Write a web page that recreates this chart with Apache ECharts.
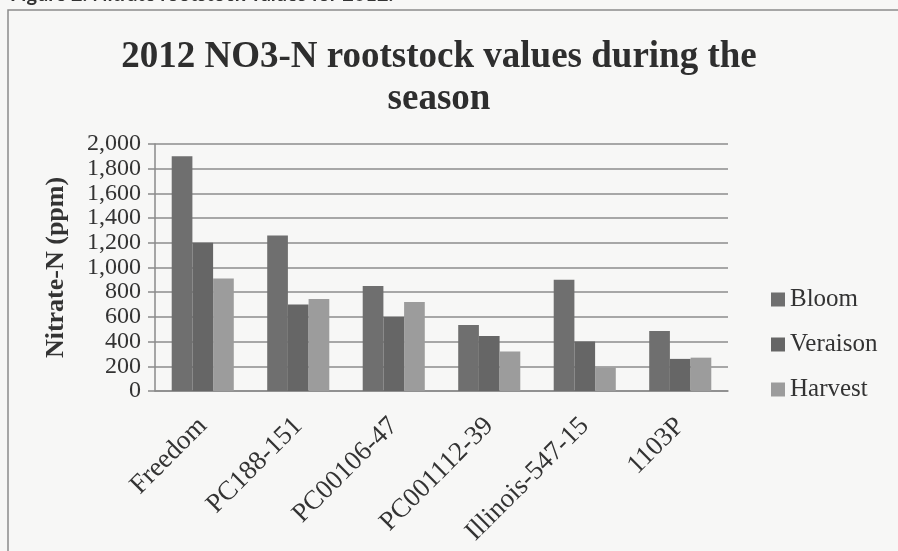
<!DOCTYPE html>
<html>
<head>
<meta charset="utf-8">
<script src="https://cdn.jsdelivr.net/npm/echarts@6/dist/echarts.min.js"></script>
<style>
html,body{margin:0;padding:0;background:#f7f7f6;}
#chart{width:898px;height:551px;}
</style>
</head>
<body>
<div id="chart"></div>
<script>
const categories = ['Freedom', 'PC188-151', 'PC00106-47', 'PC001112-39', 'Illinois-547-15', '1103P'];
const bloom    = [1900, 1260, 850, 535, 900, 485];
const veraison = [1200, 700, 600, 445, 400, 260];
const harvest  = [910, 745, 720, 320, 190, 270];
const seriesNames = ['Bloom', 'Veraison', 'Harvest'];
const titleText = '2012 NO3-N rootstock values during the\nseason';
const yAxisName = 'Nitrate-N (ppm)';
const headerText = 'Figure 2. Nitrate rootstock values for 2012.';

const colors = ['#6f6f6f', '#666666', '#9c9c9c'];
const serif = '"Liberation Serif", "DejaVu Serif", serif';

const chart = echarts.init(document.getElementById('chart'), null, {renderer: 'canvas'});
chart.setOption({
  backgroundColor: '#f7f7f6',
  animation: false,
  color: colors,
  title: {
    text: titleText,
    left: 434,
    textAlign: 'center',
    top: 31,
    textStyle: {fontFamily: serif, fontWeight: 'bold', fontSize: 37, lineHeight: 42, color: '#2e2e2e'}
  },
  graphic: [
    {type: 'rect', shape: {x: 8, y: 10, width: 940, height: 600}, style: {fill: null, stroke: '#8c8c8c', lineWidth: 1.5}, silent: true},
    {type: 'text', x: 10, y: 5, style: {text: headerText, font: 'bold 20px Lato, "Open Sans", sans-serif', fill: '#333', textVerticalAlign: 'bottom'}, silent: true}
  ],
  legend: {
    orient: 'vertical',
    left: 766,
    top: 282,
    itemWidth: 14,
    itemHeight: 14,
    itemGap: 20,
    icon: 'rect',
    textStyle: {fontFamily: serif, fontSize: 25, color: '#333'},
    data: seriesNames
  },
  grid: {left: 155, right: 170, top: 144, bottom: 160, containLabel: false},
  xAxis: {
    type: 'category',
    data: categories,
    axisLine: {show: true, lineStyle: {color: '#8a8a8a', width: 1.5}},
    axisTick: {show: false},
    axisLabel: {rotate: 45, margin: 31, fontFamily: serif, fontSize: 27, color: '#333', interval: 0}
  },
  yAxis: {
    type: 'value',
    min: 0,
    max: 2000,
    interval: 200,
    name: yAxisName,
    nameLocation: 'middle',
    nameGap: 86,
    nameTextStyle: {fontFamily: serif, fontWeight: 'bold', fontSize: 26, color: '#333'},
    axisLine: {show: true, lineStyle: {color: '#8a8a8a', width: 1.5}},
    axisTick: {show: true, length: 7, lineStyle: {color: '#8a8a8a', width: 1.5}},
    axisLabel: {fontFamily: serif, fontSize: 24, color: '#333', margin: 14,
      formatter: v => v.toLocaleString('en-US')},
    splitLine: {show: true, lineStyle: {color: '#8c8c8c', width: 1.5}}
  },
  series: [
    {name: seriesNames[0], type: 'bar', data: bloom, barGap: '0%', barCategoryGap: '35%', itemStyle: {color: colors[0]}},
    {name: seriesNames[1], type: 'bar', data: veraison, itemStyle: {color: colors[1]}},
    {name: seriesNames[2], type: 'bar', data: harvest, itemStyle: {color: colors[2]}}
  ]
});
</script>
</body>
</html>
